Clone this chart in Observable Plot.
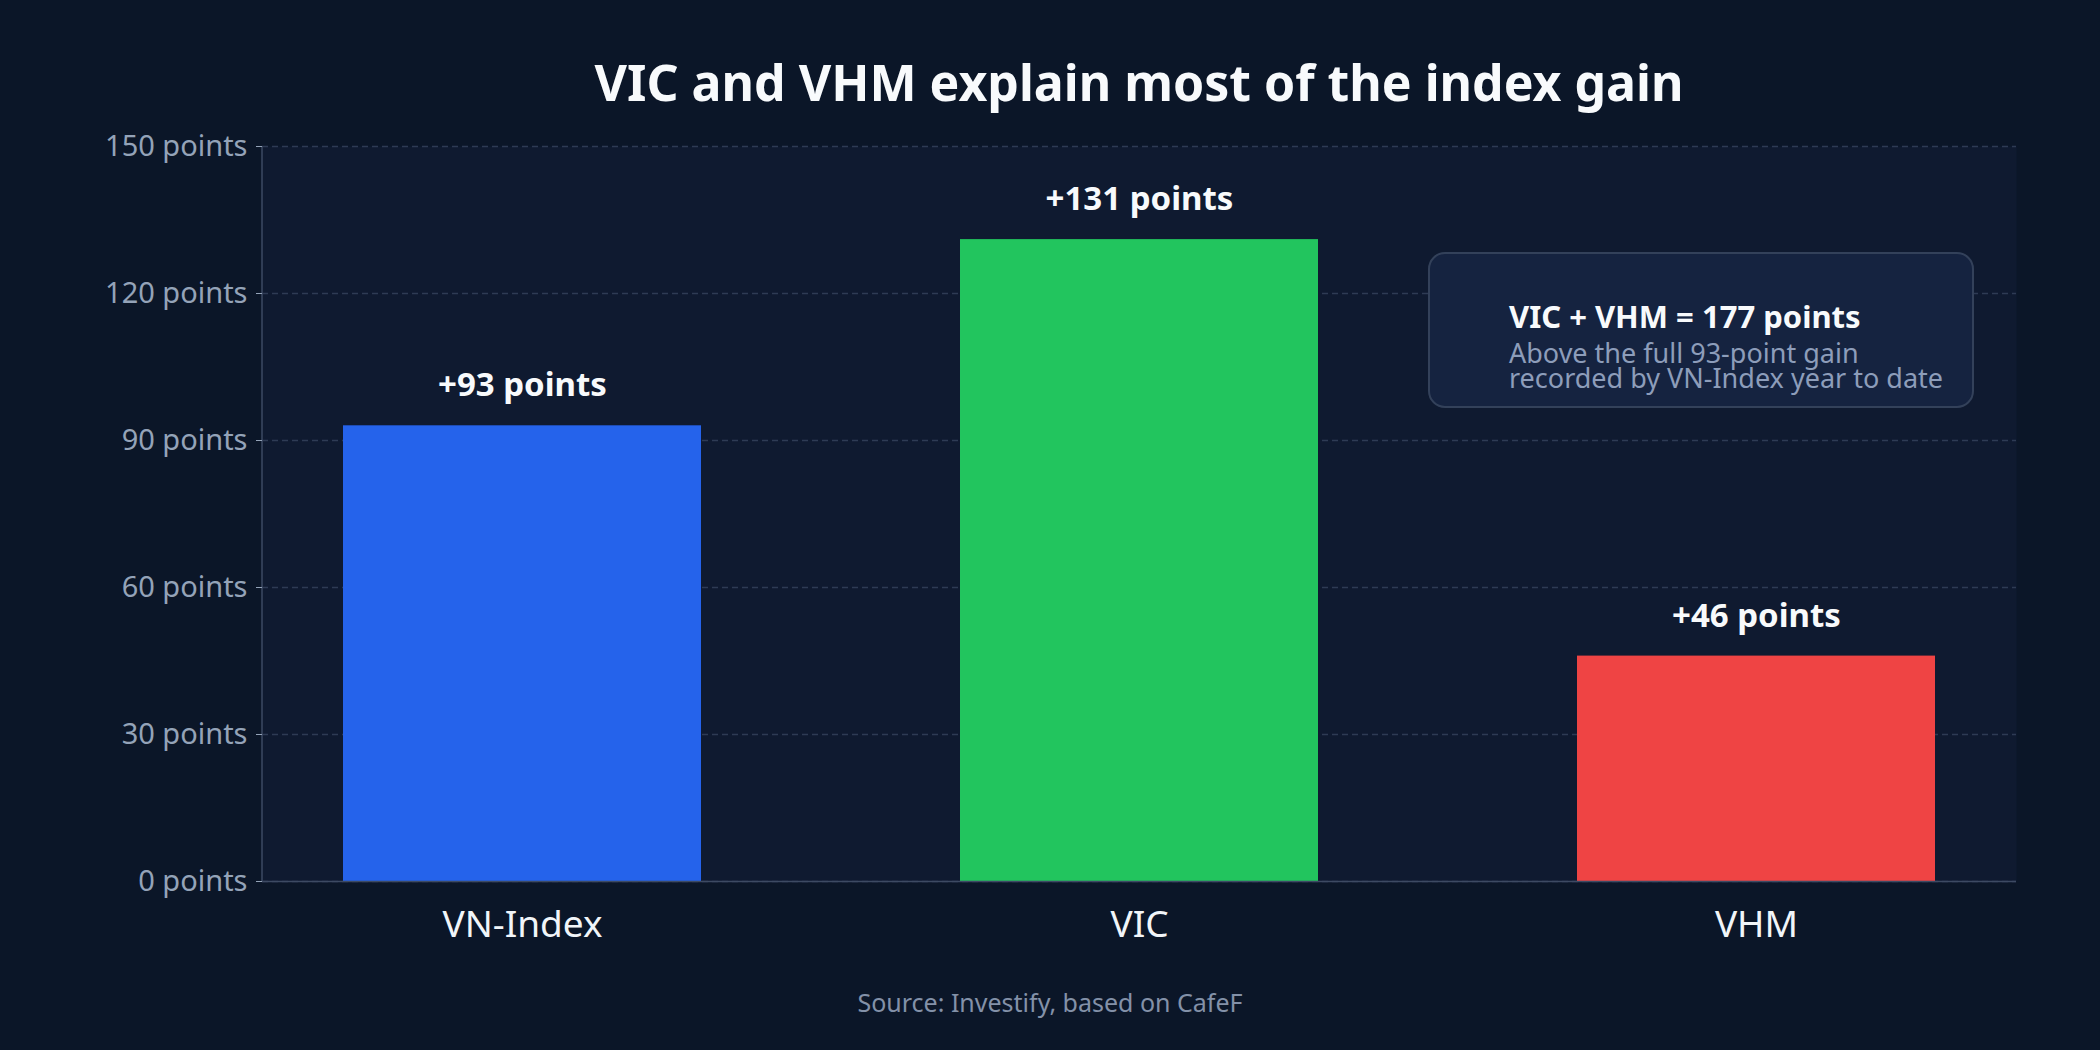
<!DOCTYPE html>
<html>
<head>
<meta charset="utf-8">
<script src="https://cdn.jsdelivr.net/npm/d3@7"></script>
<script src="https://cdn.jsdelivr.net/npm/@observablehq/plot@0.6"></script>
<style>
  html, body { margin: 0; padding: 0; background: #0b1628; }
  body { width: 2100px; height: 1050px; overflow: hidden; font-family: "Noto Sans", sans-serif; }
  #title { box-sizing: border-box; height: 120px; padding-top: 57px; padding-left: 262px; padding-right: 84px;
           text-align: center; font-size: 50px; line-height: 50px; font-weight: 700; color: #f8fafc; white-space: nowrap; }
  #chart { height: 841px; }
  #caption { margin-top: 29px; text-align: center; font-size: 25px; line-height: 25px; color: #8391a8; }
</style>
</head>
<body>
<div id="title"></div>
<div id="chart"></div>
<div id="caption"></div>
<script>
const titleText = "VIC and VHM explain most of the index gain";
const captionText = "Source: Investify, based on CafeF";
const categories = ["VN-Index", "VIC", "VHM"];
const gains = [93, 131, 46];
const barColors = ["#2563eb", "#22c55e", "#ef4444"];
const valueLabels = ["+93 points", "+131 points", "+46 points"];
const yTicks = [0, 30, 60, 90, 120, 150];
const yUnit = " points";
const noteTitle = "VIC + VHM = 177 points";
const noteLines = ["Above the full 93-point gain", "recorded by VN-Index year to date"];

document.getElementById("title").textContent = titleText;
document.getElementById("caption").textContent = captionText;

const data = categories.map((c, i) => ({cat: c, value: gains[i], label: valueLabels[i]}));

function leftAxisLine(index, scales, values, dim) {
  const g = d3.create("svg:g");
  g.append("line")
    .attr("x1", dim.marginLeft).attr("x2", dim.marginLeft)
    .attr("y1", dim.marginTop).attr("y2", dim.height - dim.marginBottom)
    .attr("stroke", "#3d4a63").attr("stroke-width", 1.5);
  return g.node();
}

function noteBox(index, scales, values, dim) {
  const g = d3.create("svg:g").attr("font-family", "Noto Sans").attr("text-anchor", "start");
  const bw = 544, bh = 154;
  const bx = dim.width - dim.marginRight - 43 - bw;
  const by = dim.marginTop + 107;
  g.append("rect").attr("x", bx).attr("y", by).attr("width", bw).attr("height", bh)
    .attr("rx", 16).attr("fill", "#152340").attr("stroke", "#33415a").attr("stroke-width", 2);
  g.append("text").attr("x", bx + 80).attr("y", by + 75).attr("text-anchor", "start")
    .attr("font-size", 31).attr("font-weight", 700).attr("fill", "#f8fafc").text(noteTitle);
  noteLines.forEach((t, i) => {
    g.append("text").attr("x", bx + 80).attr("y", by + 110 + i * 25).attr("text-anchor", "start")
      .attr("font-size", 27).attr("fill", "#8d9dba").text(t);
  });
  return g.node();
}

const chart = Plot.plot({
  width: 2100,
  height: 841,
  marginTop: 26,
  marginBottom: 80,
  marginLeft: 262,
  marginRight: 84,
  style: {background: "transparent", fontFamily: "Noto Sans", overflow: "visible"},
  x: {domain: categories, paddingInner: 0.42, paddingOuter: 0.13},
  y: {domain: [0, 150]},
  color: {domain: categories, range: barColors},
  marks: [
    Plot.frame({fill: "#0f1a30", stroke: null}),
    Plot.gridY({ticks: yTicks, stroke: "#2e3b54", strokeOpacity: 1, strokeWidth: 1.3, strokeDasharray: "6,4"}),
    Plot.barY(data, {x: "cat", y: "value", fill: "cat"}),
    Plot.ruleY([0], {stroke: "#3d4a63", strokeWidth: 1.5}),
    leftAxisLine,
    Plot.text(data, {x: "cat", y: "value", text: "label", dy: -40, fontSize: 33, fontWeight: 700, fill: "#f8fafc"}),
    Plot.axisY({ticks: yTicks, tickFormat: d => `${d}${yUnit}`, tickSize: 6, tickPadding: 9, fontSize: 29, color: "#94a3b8", label: null}),
    Plot.axisX({tickSize: 0, tickPadding: 29, fontSize: 37, color: "#f1f5f9", label: null}),
    noteBox
  ]
});
document.getElementById("chart").appendChild(chart);
</script>
</body>
</html>
